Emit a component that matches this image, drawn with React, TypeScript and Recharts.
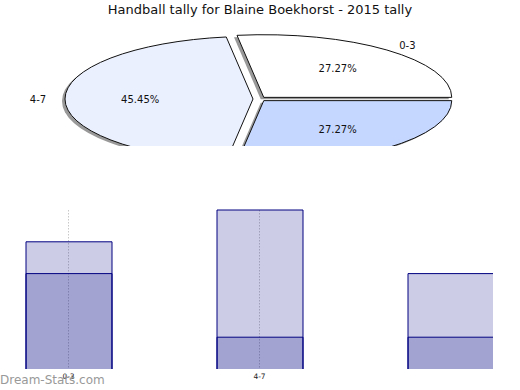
import React from 'react';
import { PieChart, Pie, BarChart, Bar, XAxis, YAxis, CartesianGrid } from 'recharts';

const RAD = Math.PI / 180;

// tally per group
const groups = ['0-3', '4-7', '8-11'];
const tally = [3, 5, 3];
const pieColors = ['#ffffff', '#ebf0ff', '#c5d7fe'];

// bar values (two overlapping series)
const barTotals = [4, 5, 3];
const barInner = [3, 1, 1];
const shownTicks = ['0-3', '4-7'];

const pieData = groups.map((g, i) => ({ name: g, value: tally[i], fill: pieColors[i] }));
const barData = groups.map((g, i) => ({ name: g, total: barTotals[i], inner: barInner[i] }));

const SQUASH = 1 / 3; // pie drawn as a flat ellipse
const EXPLODE = 6.5;

const sliceOffset = (mid: number) => [EXPLODE * Math.cos(mid * RAD), -EXPLODE * SQUASH * Math.sin(mid * RAD)];

const slicePath = (cx: number, cy: number, rx: number, a0: number, a1: number) => {
  const ry = rx * SQUASH;
  const x0 = cx + rx * Math.cos(a0 * RAD);
  const y0 = cy - ry * Math.sin(a0 * RAD);
  const x1 = cx + rx * Math.cos(a1 * RAD);
  const y1 = cy - ry * Math.sin(a1 * RAD);
  const large = Math.abs(a1 - a0) > 180 ? 1 : 0;
  return `M${cx},${cy} L${x0},${y0} A${rx},${ry} 0 ${large} 0 ${x1},${y1} Z`;
};

const SliceShape = (props: any) => {
  const { cx, cy, outerRadius, startAngle, endAngle, fill } = props;
  const mid = (startAngle + endAngle) / 2;
  const [ox, oy] = sliceOffset(mid);
  return <path d={slicePath(cx + ox, cy + oy, outerRadius, startAngle, endAngle)} fill={fill} stroke="#111" strokeWidth={1} />;
};

const ShadowShape = (props: any) => {
  const { cx, cy, outerRadius, startAngle, endAngle } = props;
  const mid = (startAngle + endAngle) / 2;
  const [ox, oy] = sliceOffset(mid);
  return <path d={slicePath(cx + ox - 3, cy + oy + 2, outerRadius, startAngle, endAngle)} fill="#999" stroke="none" />;
};

const renderLabel = (props: any) => {
  const { cx, cy, outerRadius, midAngle, percent, name } = props;
  const [ox, oy] = sliceOffset(midAngle);
  const c = Math.cos(midAngle * RAD);
  const s = Math.sin(midAngle * RAD);
  const ry = outerRadius * SQUASH;
  const nx = cx + ox + 1.1 * outerRadius * c;
  const ny = cy + oy - 1.1 * ry * s;
  const px = cx + ox + 0.6 * outerRadius * c;
  const py = cy + oy - 0.6 * ry * s;
  return (
    <g>
      <text x={nx} y={ny} textAnchor={c >= 0 ? 'start' : 'end'} dominantBaseline="central" fontSize={10} fill="#111">
        {name}
      </text>
      <text x={px} y={py} textAnchor="middle" dominantBaseline="central" fontSize={10} fill="#111">
        {(percent * 100).toFixed(2)}%
      </text>
    </g>
  );
};

const BarShape = (props: any) => {
  const { x, y, width, height, fill } = props;
  return (
    <g>
      <rect x={x} y={y} width={width} height={height} fill={fill} fillOpacity={0.2} />
      <path d={`M${x},${y + height} L${x},${y} L${x + width},${y} L${x + width},${y + height}`} fill="none" stroke="#000080" strokeWidth={1} />
    </g>
  );
};

export default function App() {
  return (
    <div style={{ position: 'absolute', left: 0, top: 0, width: 520, height: 390, background: '#fff', fontFamily: 'DejaVu Sans', overflow: 'hidden' }}>
      <div style={{ position: 'absolute', left: 0, top: 2, width: 520, textAlign: 'center', fontSize: 13, color: '#111', lineHeight: '16px' }}>
        Handball tally for Blaine Boekhorst - 2015 tally
      </div>

      <div style={{ position: 'absolute', left: 0, top: 0 }}>
        <PieChart width={520} height={146} margin={{ top: 0, right: 0, bottom: 0, left: 0 }}>
          <Pie data={pieData} dataKey="value" nameKey="name" cx={259.5} cy={99} outerRadius={188}
            startAngle={0} endAngle={360} stroke="none" shape={ShadowShape} isAnimationActive={false} />
          <Pie data={pieData} dataKey="value" nameKey="name" cx={259.5} cy={99} outerRadius={188}
            startAngle={0} endAngle={360} shape={SliceShape} label={renderLabel} labelLine={false}
            isAnimationActive={false} />
        </PieChart>
      </div>

      <div style={{ position: 'absolute', left: 0, top: 200, width: 493, height: 190, overflow: 'hidden' }}>
        <div style={{ marginLeft: -27.5 }}>
          <BarChart width={573} height={190} data={barData} margin={{ top: 10, right: 0, bottom: 0, left: 0 }}
            barSize={86} barGap={-86}>
            <CartesianGrid horizontal={false} stroke="#c8c8c8" strokeDasharray="1.5 1.5" />
            <XAxis dataKey="name" ticks={shownTicks} height={21} axisLine={false} tickLine={false}
              tickSize={0} tickMargin={5} tick={{ fontSize: 7.5, fill: '#222' }} interval={0} />
            <YAxis hide domain={[0, 5]} />
            <Bar dataKey="total" fill="#000080" shape={BarShape} isAnimationActive={false} />
            <Bar dataKey="inner" fill="#000080" shape={BarShape} isAnimationActive={false} />
          </BarChart>
        </div>
      </div>

      <div style={{ position: 'absolute', left: 0, top: 373, fontSize: 12, color: '#999', lineHeight: '14px' }}>
        Dream-Stats.com
      </div>
    </div>
  );
}
